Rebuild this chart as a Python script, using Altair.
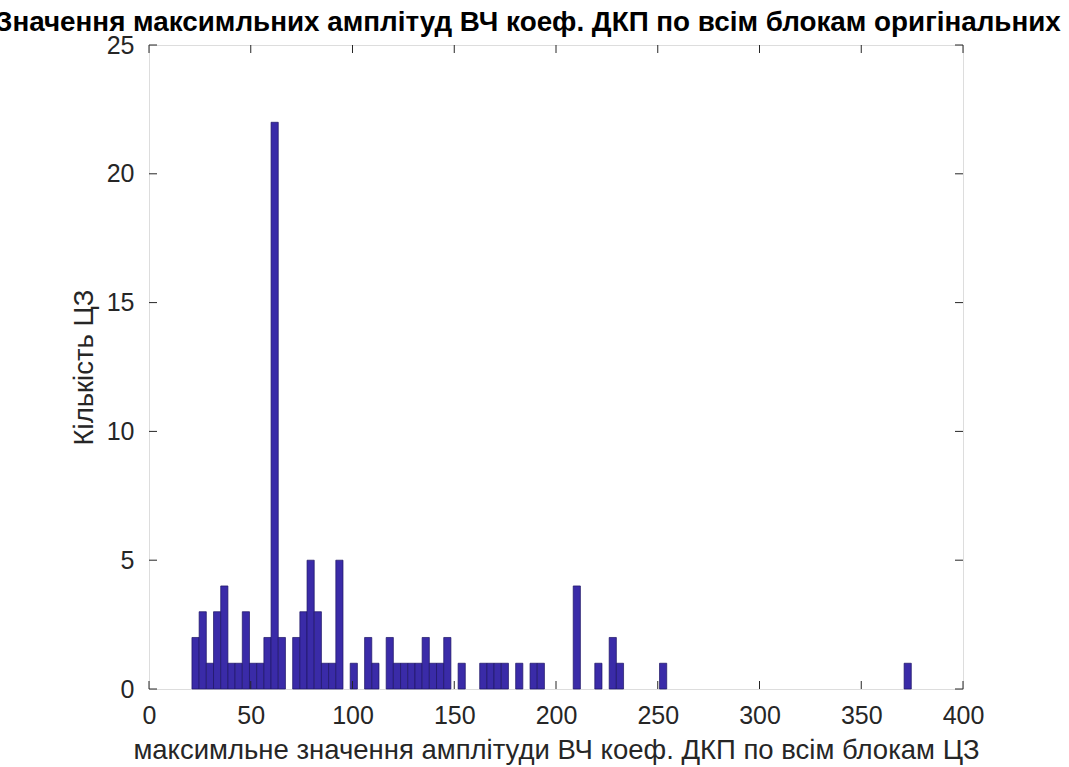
import altair as alt
import pandas as pd

# Histogram: 100 bins starting at ~21.1 with width ~3.535
bin_lo = 21.1
bin_width = 3.535
counts = [2, 3, 1, 3, 4, 1, 1, 3, 1, 1,
          2, 22, 2, 0, 2, 3, 5, 3, 1, 1,
          5, 0, 1, 0, 2, 1, 0, 2, 1, 1,
          1, 1, 2, 1, 1, 2, 0, 1, 0, 0,
          1, 1, 1, 1, 0, 1, 0, 1, 1, 0,
          0, 0, 0, 4, 0, 0, 1, 0, 2, 1,
          0, 0, 0, 0, 0, 1, 0, 0, 0, 0,
          0, 0, 0, 0, 0, 0, 0, 0, 0, 0,
          0, 0, 0, 0, 0, 0, 0, 0, 0, 0,
          0, 0, 0, 0, 0, 0, 0, 0, 0, 1]
x_ticks = [0, 50, 100, 150, 200, 250, 300, 350, 400]
y_ticks = [0, 5, 10, 15, 20, 25]

title = "Значення максимльних амплітуд ВЧ коеф. ДКП по всім блокам оригінальних"
x_title = "максимльне значення амплітуди ВЧ коеф. ДКП по всім блокам ЦЗ"
y_title = "Кількість ЦЗ"

rows = []
for i, c in enumerate(counts):
    if c > 0:
        rows.append({"x0": bin_lo + i * bin_width, "x1": bin_lo + (i + 1) * bin_width, "count": c})
df = pd.DataFrame(rows)
xt = pd.DataFrame({"v": x_ticks})
yt = pd.DataFrame({"v": y_ticks})
tdf = pd.DataFrame({"t": [title]})

FONT = "Liberation Sans"
AX = "#262626"
xs = alt.Scale(domain=[0, 400], nice=False, zero=False)
ys = alt.Scale(domain=[0, 25], nice=False)

bars = alt.Chart(df).mark_rect(fill="#3a2ba8", stroke="#1c1464", strokeWidth=0.7).encode(
    x=alt.X("x0:Q", scale=xs, axis=alt.Axis(values=x_ticks, title=x_title, grid=False, ticks=False,
                                            domain=False, labelFontSize=25, labelFont=FONT, labelColor=AX,
                                            labelPadding=14, labelFlush=False, titleFont=FONT,
                                            titleFontSize=27.5, titleFontWeight="normal", titleColor=AX,
                                            titleBaseline="alphabetic", titleY=69)),
    x2="x1:Q",
    y=alt.Y("count:Q", scale=ys, axis=alt.Axis(values=y_ticks, title=y_title, grid=False, ticks=False,
                                               domain=False, labelFontSize=25, labelFont=FONT, labelColor=AX,
                                               labelPadding=15, labelFlush=False, titleFont=FONT,
                                               titleFontSize=27.5, titleFontWeight="normal", titleColor=AX,
                                               titleX=-65, titleBaseline="middle", titleAngle=270)),
    y2=alt.datum(0),
)

xtick_b = alt.Chart(xt).mark_rule(color=AX, strokeWidth=1).encode(
    x=alt.X("v:Q", scale=xs), y=alt.value(644), y2=alt.value(636))
xtick_t = alt.Chart(xt).mark_rule(color=AX, strokeWidth=1).encode(
    x=alt.X("v:Q", scale=xs), y=alt.value(0), y2=alt.value(8))
ytick_l = alt.Chart(yt).mark_rule(color=AX, strokeWidth=1).encode(
    y=alt.Y("v:Q", scale=ys), x=alt.value(0), x2=alt.value(8))
ytick_r = alt.Chart(yt).mark_rule(color=AX, strokeWidth=1).encode(
    y=alt.Y("v:Q", scale=ys), x=alt.value(814), x2=alt.value(806))

title_mark = alt.Chart(tdf).mark_text(font=FONT, fontSize=27.8, fontWeight="bold", color="black",
                                      align="left", baseline="alphabetic").encode(
    text="t:N", x=alt.value(-154), y=alt.value(-14))

chart = alt.layer(bars, xtick_b, xtick_t, ytick_l, ytick_r, title_mark).properties(
    width=814, height=644,
    autosize=alt.AutoSizeParams(type="none"),
    padding={"left": 149, "top": 45, "right": 106, "bottom": 78},
).configure_view(stroke=AX, strokeWidth=1).configure(background="white")

chart.save("out.html", embed_options={"renderer": "svg", "actions": False})
